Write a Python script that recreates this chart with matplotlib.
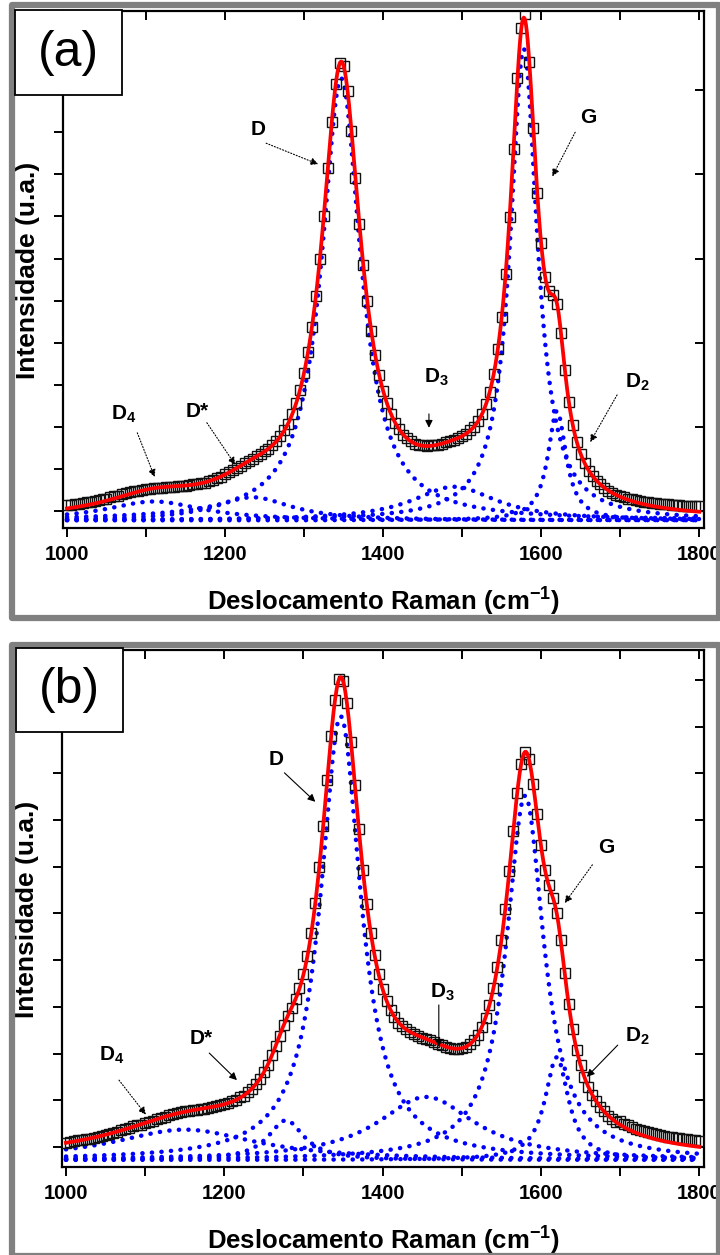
import matplotlib
matplotlib.use('Agg')
import matplotlib.pyplot as plt
from matplotlib.patches import Rectangle
from matplotlib.ticker import MultipleLocator
import numpy as np

plt.rcParams['font.family'] = ['Liberation Sans', 'DejaVu Sans']
plt.rcParams['mathtext.fontset'] = 'custom'
plt.rcParams['mathtext.rm'] = 'Liberation Sans'
plt.rcParams['mathtext.bf'] = 'Liberation Sans:bold'

# Raman shift of the measured points (cm-1)
shift = np.arange(1000, 1801, 5)

meas_a = [0.14, 0.15, 0.16, 0.17, 0.19, 0.21, 0.22, 0.24, 0.26, 0.28,
          0.30, 0.33, 0.35, 0.37, 0.40, 0.42, 0.45, 0.47, 0.49, 0.50,
          0.52, 0.52, 0.54, 0.56, 0.56, 0.58, 0.58, 0.58, 0.60, 0.60,
          0.60, 0.62, 0.64, 0.64, 0.66, 0.68, 0.72, 0.74, 0.78, 0.82,
          0.88, 0.92, 0.98, 1.02, 1.08, 1.14, 1.20, 1.24, 1.30, 1.36,
          1.42, 1.48, 1.56, 1.66, 1.78, 1.92, 2.08, 2.30, 2.56, 2.88,
          3.28, 3.78, 4.38, 5.12, 6.00, 7.02, 8.14, 9.24, 10.14, 10.64,
          10.58, 9.98, 9.04, 7.92, 6.82, 5.84, 4.98, 4.28, 3.70, 3.24,
          2.86, 2.56, 2.30, 2.10, 1.96, 1.82, 1.74, 1.66, 1.60, 1.58,
          1.56, 1.54, 1.56, 1.56, 1.58, 1.60, 1.64, 1.66, 1.70, 1.74,
          1.78, 1.84, 1.92, 2.00, 2.14, 2.30, 2.54, 2.84, 3.26, 3.84,
          4.60, 5.64, 6.98, 8.60, 10.28, 11.48, 11.80, 10.66, 9.10, 7.56,
          6.36, 5.56, 5.22, 5.14, 4.92, 4.24, 3.36, 2.60, 2.04, 1.64,
          1.36, 1.14, 0.96, 0.84, 0.72, 0.64, 0.56, 0.48, 0.44, 0.38,
          0.36, 0.33, 0.30, 0.28, 0.26, 0.24, 0.22, 0.21, 0.20, 0.19,
          0.18, 0.17, 0.16, 0.15, 0.14, 0.14, 0.13, 0.13, 0.12, 0.12,
          0.12]
meas_b = [0.08, 0.10, 0.12, 0.14, 0.14, 0.16, 0.18, 0.20, 0.22, 0.24,
          0.26, 0.28, 0.30, 0.32, 0.36, 0.38, 0.40, 0.44, 0.46, 0.48,
          0.52, 0.54, 0.56, 0.60, 0.62, 0.64, 0.68, 0.70, 0.72, 0.74,
          0.76, 0.76, 0.78, 0.80, 0.82, 0.82, 0.84, 0.86, 0.88, 0.90,
          0.92, 0.94, 0.98, 1.00, 1.06, 1.10, 1.18, 1.24, 1.34, 1.46,
          1.60, 1.76, 1.96, 2.16, 2.38, 2.60, 2.80, 2.98, 3.16, 3.40,
          3.70, 4.08, 4.58, 5.22, 6.00, 6.88, 7.86, 8.80, 9.58, 10.02,
          9.98, 9.50, 8.68, 7.74, 6.80, 5.94, 5.20, 4.58, 4.10, 3.70,
          3.38, 3.12, 2.94, 2.78, 2.66, 2.58, 2.52, 2.46, 2.42, 2.38,
          2.34, 2.32, 2.28, 2.24, 2.20, 2.18, 2.14, 2.12, 2.10, 2.10,
          2.12, 2.14, 2.20, 2.28, 2.40, 2.56, 2.76, 3.04, 3.40, 3.86,
          4.42, 5.10, 5.90, 6.76, 7.58, 8.20, 8.46, 8.30, 7.78, 7.12,
          6.46, 5.94, 5.60, 5.34, 5.00, 4.42, 3.72, 3.06, 2.52, 2.08,
          1.76, 1.50, 1.28, 1.12, 0.98, 0.86, 0.76, 0.66, 0.60, 0.54,
          0.55, 0.50, 0.46, 0.42, 0.39, 0.36, 0.34, 0.32, 0.29, 0.27,
          0.26, 0.24, 0.22, 0.21, 0.20, 0.19, 0.17, 0.16, 0.15, 0.14,
          0.13]

# Lorentzian fit components: D4, D*, D, D3, G, D2  (center cm-1, height, fwhm)
centers_a = [1110, 1235, 1347, 1490, 1578, 1620]
heights_a = [0.45, 0.55, 10.5, 0.8, 11.2, 2.6]
fwhm_a = [150, 120, 60, 130, 42, 28]
base_a = -0.22

centers_b = [1150, 1278, 1347, 1455, 1580, 1620]
heights_b = [0.65, 0.85, 9.5, 1.35, 7.8, 2.2]
fwhm_b = [220, 55, 62, 150, 58, 36]
base_b = -0.28

# band labels: text, text position, arrow start, arrow tip, line style
labels_a = [('D', (1242, 9.07), (1252, 8.74), (1318, 8.24), ':'),
            ('G', (1659, 9.36), (1643, 9.0), (1614, 7.95), ':'),
            (r'$\mathbf{D_4}$', (1072, 2.29), (1089, 1.86), (1111, 0.81), ':'),
            ('D*', (1165, 2.36), (1177, 2.1), (1213, 1.1), ':'),
            (r'$\mathbf{D_3}$', (1467, 3.19), (1458, 2.31), (1458, 1.98), '-'),
            (r'$\mathbf{D_2}$', (1722, 3.07), (1696, 2.76), (1662, 1.64), ':')]
labels_b = [('D', (1266, 8.29), (1276, 8.01), (1315, 7.39), '-'),
            ('G', (1682, 6.42), (1665, 6.04), (1630, 5.22), ':'),
            (r'$\mathbf{D_4}$', (1058, 1.97), (1067, 1.43), (1101, 0.69), ':'),
            ('D*', (1171, 2.33), (1181, 2.01), (1216, 1.43), '-'),
            (r'$\mathbf{D_3}$', (1476, 3.30), (1471, 3.04), (1471, 2.14), '-'),
            (r'$\mathbf{D_2}$', (1722, 2.36), (1697, 2.18), (1658, 1.5), '-')]


def lor(x, c, h, w):
    g = w / 2.0
    return h * g**2 / ((x - c)**2 + g**2)


W, H = 720, 1255
fig = plt.figure(figsize=(7.2, 12.55), dpi=100)


def rect(l, t, r, b):
    return [l / W, 1 - b / H, (r - l) / W, (b - t) / H]


# gray outer frames
for t, b in [(5.5, 617.5), (644.5, 1256)]:
    fig.patches.append(Rectangle((11.5 / W, 1 - b / H), (719.5 - 11.5) / W, (b - t) / H,
                                 transform=fig.transFigure, fill=False,
                                 edgecolor='#808080', lw=4.5, joinstyle='round'))

panels = [((63, 11, 704, 528), meas_a, centers_a, heights_a, fwhm_a, base_a, (-0.4, 11.88), 2,
           labels_a, '(a)', (15, 10, 122, 95)),
          ((62, 650, 704, 1167), meas_b, centers_b, heights_b, fwhm_b, base_b, (-0.43, 10.64), 1,
           labels_b, '(b)', (16, 648, 123, 732))]

for (l, t, r, b), meas, cs, hs, ws, base, ylim, rstep, labs, letter, box in panels:
    ax = fig.add_axes(rect(l, t, r, b))
    xf = np.linspace(1000, 1800, 801)
    total = np.full_like(xf, base)
    for c, h, w in zip(cs, hs, ws):
        total += lor(xf, c, h, w)
        ax.plot(xf, base + lor(xf, c, h, w), color='#0000ff', lw=3.2,
                ls=(0, (0.05, 2.1)), dash_capstyle='round', zorder=2)
    ax.plot(shift, meas, ls='none', marker='s', ms=7, mfc='none', mec='#111111',
            mew=1.0, zorder=3)
    ax.plot(xf, total, color='#ff0000', lw=2.7, zorder=4)

    ax.set_xlim(995, 1806)
    ax.set_ylim(*ylim)
    ax.xaxis.set_major_locator(MultipleLocator(200))
    ax.xaxis.set_minor_locator(MultipleLocator(100))
    ax.yaxis.set_major_locator(MultipleLocator(1))
    ax.set_yticklabels([])
    for s in ax.spines.values():
        s.set_linewidth(1.6)
    ax.tick_params(which='both', direction='out', length=6.5, width=1.4,
                   top=False, right=False, labelsize=14.5, pad=6)
    for lab in ax.get_xticklabels():
        lab.set_fontweight('bold')
    sec = ax.secondary_xaxis('top')
    sec.xaxis.set_major_locator(MultipleLocator(100))
    sec.tick_params(direction='in', length=6.5, width=1.4, labeltop=False)
    sec.spines['top'].set_visible(False)
    secy = ax.secondary_yaxis('right')
    secy.yaxis.set_major_locator(MultipleLocator(rstep))
    secy.tick_params(direction='in', length=6.5, width=1.4, labelright=False)
    secy.spines['right'].set_visible(False)

    ax.set_xlabel(r'Deslocamento Raman (cm$^{\mathbf{-1}}$)', fontsize=18.5,
                  fontweight='bold', labelpad=14)
    ax.set_ylabel('Intensidade (u.a.)', fontsize=19, fontweight='bold')
    ax.yaxis.set_label_coords(-0.036, 0.498)

    for txt, tpos, start, tip, style in labs:
        ax.text(tpos[0], tpos[1], txt, fontsize=15, fontweight='bold',
                ha='center', va='center', zorder=6)
        ax.annotate('', xy=tip, xytext=start,
                    arrowprops=dict(arrowstyle='-|>', color='black', lw=0.8,
                                    ls=style, mutation_scale=11, shrinkA=0, shrinkB=0),
                    zorder=6)

    bl, bt, br, bb = box
    fig.patches.append(Rectangle((bl / W, 1 - bb / H), (br - bl) / W, (bb - bt) / H,
                                 transform=fig.transFigure, facecolor='white',
                                 edgecolor='black', lw=1.3, zorder=10))
    fig.text((bl + br) / 2 / W, 1 - (bt + bb) / 2 / H, letter, fontsize=36,
             ha='center', va='center', zorder=11)

fig.savefig('out.png', dpi=100)
